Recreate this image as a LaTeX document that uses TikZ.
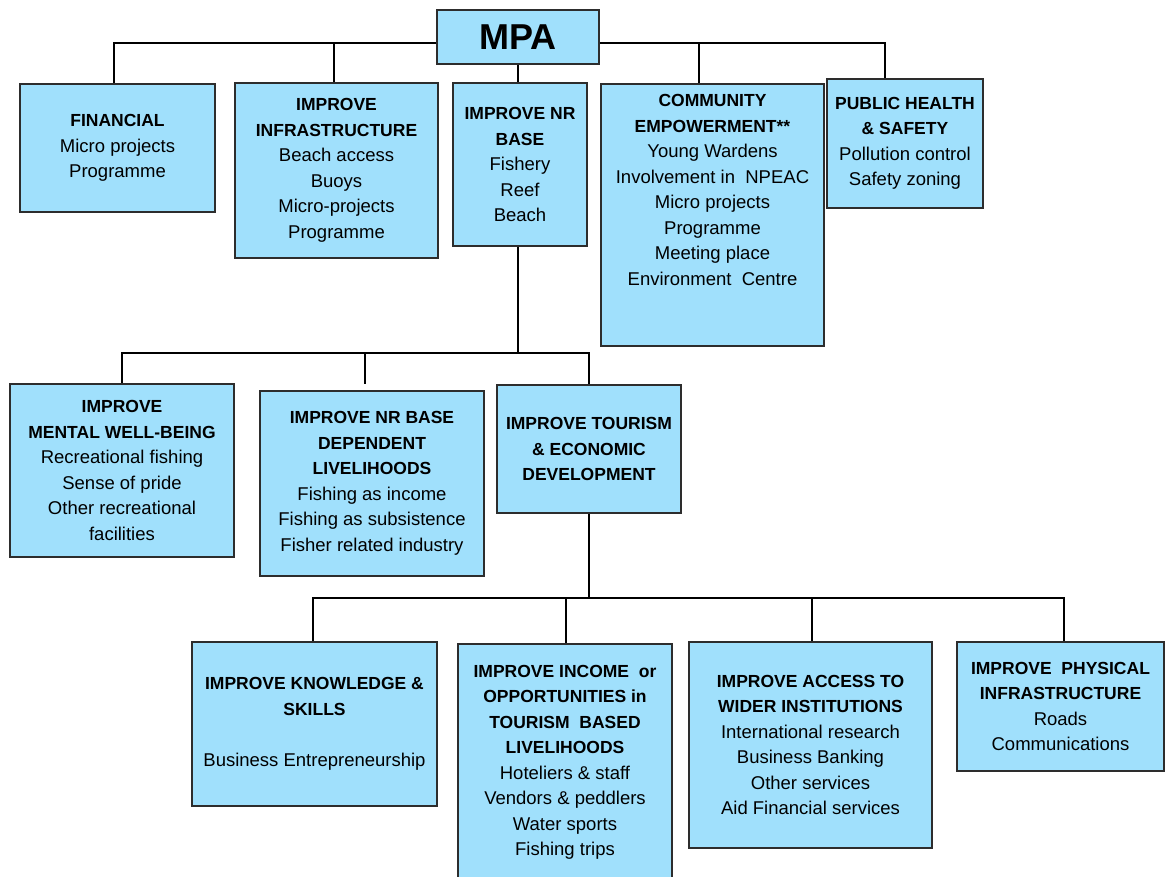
\documentclass[tikz,border=0pt]{standalone}
\usepackage{fontspec}
\setmainfont{Liberation Sans}
\definecolor{boxfill}{RGB}{160,224,252}
\definecolor{boxline}{RGB}{45,45,45}
\newcommand{\hd}[1]{\textbf{\fontsize{17.5}{25.5}\selectfont #1}}
\begin{document}
\begin{tikzpicture}[x=1pt,y=-1pt,
  box/.style={draw=boxline, line width=1.3pt, fill=boxfill, inner sep=0pt, align=center,
              font=\fontsize{18.5}{25.5}\selectfont,
              execute at begin node={\rule{0pt}{18.5pt}}},
  conn/.style={line width=1.2pt, draw=black},
  trunk/.style={line width=2.8pt, draw=black}]
\useasboundingbox (0,0) rectangle (1165,877);

% ---- level 0 / 1
\node[box, line width=2pt, minimum width=162pt, minimum height=54pt,
      execute at begin node={}, font=\bfseries\fontsize{36}{40}\selectfont]
  (mpa) at (518,37) {MPA};
\node[box, minimum width=195pt, minimum height=128pt] (fin) at (117.5,148)
  {\hd{FINANCIAL}\\ Micro projects\\ Programme};
\node[box, minimum width=203pt, minimum height=175pt] (infra) at (336.5,170.5)
  {\hd{IMPROVE}\\ \hd{INFRASTRUCTURE}\\ Beach access\\ Buoys\\ Micro-projects\\ Programme};
\node[box, minimum width=134pt, minimum height=163pt] (nr) at (520,164.5)
  {\hd{IMPROVE NR}\\ \hd{BASE}\\ Fishery\\ Reef\\ Beach};
\node[box, minimum width=223pt, minimum height=262pt] (comm) at (712.5,215)
  {\hd{COMMUNITY}\\ \hd{EMPOWERMENT**}\\ Young Wardens\\ Involvement in~ NPEAC\\ Micro projects\\ Programme\\ Meeting place\\ Environment~ Centre\\[25pt]};
\node[box, minimum width=156pt, minimum height=129pt] (pub) at (905,143.5)
  {\hd{PUBLIC HEALTH}\\ \hd{\& SAFETY}\\ Pollution control\\ Safety zoning};

% ---- level 2
\node[box, minimum width=224pt, minimum height=173pt] (mental) at (122,470.5)
  {\hd{IMPROVE}\\ \hd{MENTAL WELL-BEING}\\ Recreational fishing\\ Sense of pride\\ Other recreational\\ facilities};
\node[box, minimum width=224pt, minimum height=185pt] (liveli) at (372,483.5)
  {\hd{IMPROVE NR BASE}\\ \hd{DEPENDENT}\\ \hd{LIVELIHOODS}\\ Fishing as income\\ Fishing as subsistence\\ Fisher related industry};
\node[box, minimum width=184pt, minimum height=128pt] (tour) at (589,449)
  {\hd{IMPROVE TOURISM}\\ \hd{\& ECONOMIC}\\ \hd{DEVELOPMENT}};

% ---- level 3
\node[box, minimum width=245pt, minimum height=164pt] (know) at (314.5,724)
  {\hd{IMPROVE KNOWLEDGE \&}\\ \hd{SKILLS}\\[25.5pt] Business Entrepreneurship};
\node[box, minimum width=214pt, minimum height=237pt] (inc) at (565,762.5)
  {\hd{IMPROVE INCOME~ or}\\ \hd{OPPORTUNITIES in}\\ \hd{TOURISM~ BASED}\\ \hd{LIVELIHOODS}\\ Hoteliers \& staff\\ Vendors \& peddlers\\ Water sports\\ Fishing trips};
\node[box, minimum width=243pt, minimum height=206pt] (acc) at (810.5,745)
  {\hd{IMPROVE ACCESS TO}\\ \hd{WIDER INSTITUTIONS}\\ International research\\ Business Banking\\ Other services\\ Aid Financial services};
\node[box, minimum width=207pt, minimum height=129pt] (phys) at (1060.5,706.5)
  {\hd{IMPROVE~ PHYSICAL}\\ \hd{INFRASTRUCTURE}\\ Roads\\ Communications};

% ---- connectors level 1
\coordinate (bar1) at (0,43);
\draw[conn] ([yshift=-6pt]mpa.west) -| ([xshift=-3.5pt]fin.north);
\draw[conn] ([xshift=-2.5pt]infra.north |- bar1) -- ([xshift=-2.5pt]infra.north);
\draw[conn] ([yshift=-6pt]mpa.east) -| ([xshift=-20pt]pub.north);
\draw[conn] ([xshift=-13.5pt]comm.north |- bar1) -- ([xshift=-13.5pt]comm.north);
\draw[conn] (mpa.south) -- (mpa.south |- nr.north);

% ---- connectors level 2
\coordinate (bar2) at (0,353);
\coordinate (livend) at (365,384);
\draw[conn] (livend |- bar2) -| (mental.north);
\draw[conn] (mpa.south |- bar2) -| (tour.north);
\draw[conn] (livend |- bar2) -- (livend);
\draw[trunk] (mpa.south |- nr.south) -- (mpa.south |- bar2) -- (livend |- bar2);

% ---- connectors level 3
\coordinate (bar3) at (0,598);
\coordinate (incx) at (566,0);
\draw[conn] (incx |- bar3) -| ([xshift=-1.5pt]know.north);
\draw[conn] (tour.south |- bar3) -| ([xshift=3.5pt]phys.north);
\draw[conn] ([xshift=1.5pt]acc.north |- bar3) -- ([xshift=1.5pt]acc.north);
\draw[conn] (incx |- bar3) -- (incx |- inc.north);
\draw[trunk] (tour.south) -- (tour.south |- bar3) -- (incx |- bar3);
\end{tikzpicture}
\end{document}
